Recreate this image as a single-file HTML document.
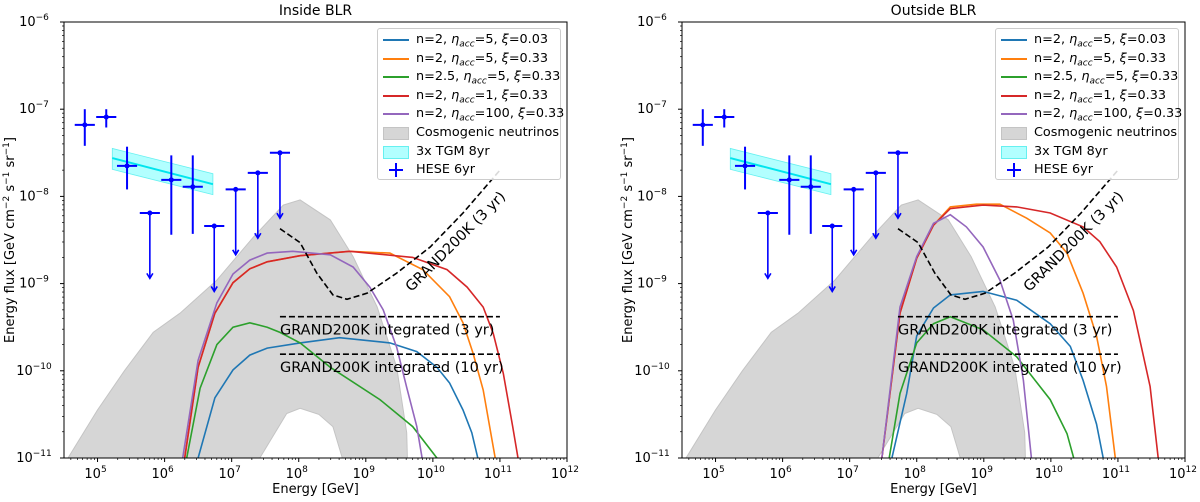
<!DOCTYPE html>
<html><head><meta charset="utf-8"><style>
body{margin:0;background:#fff;width:1200px;height:502px;overflow:hidden;font-family:"DejaVu Sans","Liberation Sans",sans-serif;}
#wrap{position:relative;width:1200px;height:502px;}
svg{position:absolute;left:0;top:0;}
.legend{position:absolute;border:1px solid #ccc;border-radius:3px;background:rgba(255,255,255,0.85);font-size:12.8px;color:#000;}
.le{position:absolute;left:0;height:18px;white-space:nowrap;}
.sw{position:absolute;left:5px;width:26px;}
.lt{position:absolute;left:38px;top:0;line-height:18px;}
sub{font-size:9px;font-style:italic;}
</style></head><body>
<div id="wrap">
<svg id="chart" width="1200" height="502"></svg>
</div>
<script>
const xTicks = [5,6,7,8,9,10,11,12];
const yTicks = [-11,-10,-9,-8,-7,-6];
const panelTitles = ['Inside BLR','Outside BLR'];
const legendLabels = ['n=2, η_acc=5, ξ=0.03','n=2, η_acc=5, ξ=0.33','n=2.5, η_acc=5, ξ=0.33','n=2, η_acc=1, ξ=0.33','n=2, η_acc=100, ξ=0.33'];

const hesePtE = [4.81,5.13,5.44,6.10,6.42];
const hesePtF = [-7.18,-7.09,-7.65,-7.81,-7.89];
const hesePtLo = [-7.42,-7.21,-7.92,-8.44,-8.43];
const hesePtHi = [-7.0,-7.0,-7.43,-7.53,-7.53];
const heseUlE = [5.78,6.74,7.06,7.39,7.72];
const heseUlF = [-8.19,-8.34,-7.92,-7.73,-7.50];

const tgmE = [5.22,6.72];
const tgmMid = [-7.56,-7.86];
const tgmUp = [-7.45,-7.74];
const tgmLo = [-7.69,-7.98];

const cosmoOuterE = [4.56,5.0,5.4,5.83,6.23,6.78,7.32,7.77,8.02,8.47,8.81,9.17,9.46,9.61,9.62];
const cosmoOuterF = [-11,-10.45,-10.0,-9.56,-9.34,-8.96,-8.47,-8.10,-8.04,-8.27,-8.69,-9.27,-9.96,-10.71,-11];
const cosmoHoleE = [8.65,8.51,8.30,8.02,7.82,7.42];
const cosmoHoleF = [-11,-10.64,-10.50,-10.43,-10.49,-11];

const grandE = [7.72,8.02,8.27,8.51,8.72,9.02,9.46,9.96,10.45,11.0];
const grandF = [-8.37,-8.53,-8.88,-9.13,-9.18,-9.11,-8.88,-8.58,-8.19,-7.70];
const grandIntE = [7.72,11.0];
const grandInt3F = -9.38;
const grandInt10F = -9.81;

const inBlueE = [6.50,6.75,7.02,7.27,7.53,8.02,8.61,9.36,9.76,10.06,10.25,10.45,10.58,10.67];
const inBlueF = [-11,-10.31,-9.99,-9.82,-9.74,-9.68,-9.62,-9.68,-9.78,-9.96,-10.14,-10.45,-10.71,-11];
const inOrangeE = [6.30,6.50,6.75,7.02,7.27,7.53,8.02,8.76,9.36,9.85,10.25,10.45,10.60,10.75,10.93];
const inOrangeF = [-11,-9.96,-9.34,-8.99,-8.83,-8.75,-8.68,-8.63,-8.65,-8.84,-9.15,-9.45,-9.80,-10.22,-11];
const inGreenE = [6.33,6.53,6.78,7.02,7.27,7.53,7.72,8.02,8.47,9.21,9.70,10.06];
const inGreenF = [-11,-10.20,-9.70,-9.50,-9.45,-9.50,-9.56,-9.68,-9.96,-10.33,-10.64,-11];
const inRedE = [6.30,6.50,6.75,7.02,7.27,7.53,8.02,8.76,9.70,10.21,10.51,10.75,10.90,11.05,11.19,11.27];
const inRedF = [-11,-9.96,-9.34,-8.99,-8.83,-8.75,-8.68,-8.63,-8.70,-8.84,-9.04,-9.27,-9.57,-10.03,-10.64,-11];
const inPurpleE = [6.27,6.50,6.78,7.02,7.27,7.53,7.91,8.47,8.81,9.06,9.26,9.46,9.61,9.76,9.84];
const inPurpleF = [-11,-9.88,-9.22,-8.89,-8.73,-8.65,-8.63,-8.67,-8.81,-9.04,-9.30,-9.73,-10.19,-10.64,-11];

const outBlueE = [7.63,7.85,8.00,8.25,8.50,8.99,9.49,9.99,10.29,10.48,10.68,10.78];
const outBlueF = [-11,-10.26,-9.60,-9.28,-9.13,-9.09,-9.19,-9.46,-9.72,-10.11,-10.61,-11];
const outOrangeE = [7.48,7.75,8.00,8.25,8.50,8.89,9.24,9.64,9.99,10.24,10.48,10.68,10.83,10.96];
const outOrangeF = [-11,-9.34,-8.71,-8.33,-8.12,-8.09,-8.09,-8.25,-8.42,-8.65,-9.11,-9.60,-10.18,-11];
const outGreenE = [7.59,7.75,8.00,8.25,8.50,8.99,9.49,9.99,10.24,10.34];
const outGreenF = [-11,-10.26,-9.68,-9.46,-9.38,-9.53,-9.84,-10.33,-10.72,-11];
const outRedE = [7.48,7.75,8.00,8.25,8.50,8.99,9.49,9.99,10.48,10.73,10.98,11.23,11.48,11.60];
const outRedF = [-11,-9.34,-8.71,-8.33,-8.14,-8.10,-8.12,-8.19,-8.35,-8.52,-8.81,-9.31,-10.18,-11];
const outPurpleE = [7.48,7.75,8.00,8.25,8.50,8.74,8.99,9.24,9.44,9.59,9.71];
const outPurpleF = [-11,-9.27,-8.69,-8.31,-8.21,-8.35,-8.58,-8.96,-9.42,-10.11,-11];

const colors = ['#1f77b4','#ff7f0e','#2ca02c','#d62728','#9467bd'];
const panelSeries = [
  [[inBlueE,inBlueF],[inOrangeE,inOrangeF],[inGreenE,inGreenF],[inRedE,inRedF],[inPurpleE,inPurpleF]],
  [[outBlueE,outBlueF],[outOrangeE,outOrangeF],[outGreenE,outGreenF],[outRedE,outRedF],[outPurpleE,outPurpleF]]
];

const NS = 'http://www.w3.org/2000/svg';
const svg = document.getElementById('chart');
function mk(tag, attrs, parent){
  const el = document.createElementNS(NS, tag);
  for (const k in attrs) el.setAttribute(k, attrs[k]);
  (parent||svg).appendChild(el);
  return el;
}
const PW = 503, Y0 = 22, Y1 = 458, XMIN = 4.5, XMAX = 12, YMIN = -11, YMAX = -6;

function drawPanel(p){
  const x0 = p === 0 ? 64 : 682;
  const sx = v => x0 + (v - XMIN) / (XMAX - XMIN) * PW;
  const sy = v => Y1 - (v - YMIN) / (YMAX - YMIN) * (Y1 - Y0);
  const g = mk('g', {});
  
  
  const clipId = 'clip' + p;
  const cp = mk('clipPath', {id: clipId}, g);
  mk('rect', {x: x0, y: Y0, width: PW, height: Y1 - Y0}, cp);
  const plot = mk('g', {'clip-path': 'url(#' + clipId + ')'}, g);

  let d = '';
  cosmoOuterE.forEach((e, i) => { d += (i ? 'L' : 'M') + sx(e).toFixed(1) + ',' + sy(cosmoOuterF[i]).toFixed(1); });
  cosmoHoleE.forEach((e, i) => { d += 'L' + sx(e).toFixed(1) + ',' + sy(cosmoHoleF[i]).toFixed(1); });
  d += 'Z';
  const cosmo = mk('path', {d: d, fill: '#d6d6d6', stroke: '#c4c4c4', 'stroke-width': 1}, plot);
  
  

  const band = mk('path', {d: 'M' + sx(tgmE[0]) + ',' + sy(tgmUp[0]) + 'L' + sx(tgmE[1]) + ',' + sy(tgmUp[1]) + 'L' + sx(tgmE[1]) + ',' + sy(tgmLo[1]) + 'L' + sx(tgmE[0]) + ',' + sy(tgmLo[0]) + 'Z', fill: '#b2ffff', stroke: '#66f0f0', 'stroke-width': 0.8}, plot);
  
  
  const tl = mk('line', {x1: sx(tgmE[0]), y1: sy(tgmMid[0]), x2: sx(tgmE[1]), y2: sy(tgmMid[1]), stroke: '#00e5ee', 'stroke-width': 2}, plot);
  
  

  panelSeries[p].forEach((s, i) => {
    const pts = s[0].map((e, j) => sx(e).toFixed(1) + ',' + sy(s[1][j]).toFixed(1)).join(' ');
    const pl = mk('polyline', {points: pts, fill: 'none', stroke: colors[i], 'stroke-width': 1.6}, plot);
    
    
  });

  const gp = grandE.map((e, j) => sx(e).toFixed(1) + ',' + sy(grandF[j]).toFixed(1)).join(' ');
  const gl = mk('polyline', {points: gp, fill: 'none', stroke: '#000', 'stroke-width': 1.6, 'stroke-dasharray': '6,3'}, plot);
  
  
  [grandInt3F, grandInt10F].forEach((f, k) => {
    const ln = mk('line', {x1: sx(grandIntE[0]), x2: sx(grandIntE[1]), y1: sy(f), y2: sy(f), stroke: '#000', 'stroke-width': 1.6, 'stroke-dasharray': '6,3'}, plot);
    
    
    const t = mk('text', {x: sx(grandIntE[0]), y: sy(f) + 18, 'font-size': 14.5, fill: '#000'}, g);
    t.textContent = k ? 'GRAND200K integrated (10 yr)' : 'GRAND200K integrated (3 yr)';
    
    
  });
  const rl = mk('text', {x: 0, y: 0, 'font-size': 14.5, 'text-anchor': 'middle', 'dominant-baseline': 'middle', transform: 'translate(' + (x0 + 392) + ',242) rotate(-45)'}, g);
  rl.textContent = 'GRAND200K (3 yr)';
  
  

  const blue = '#0000ff';
  hesePtE.forEach((e, i) => {
    const hg = mk('g', {stroke: blue, 'stroke-width': 2}, plot);
    
    
    mk('line', {x1: sx(e - 0.15), x2: sx(e + 0.15), y1: sy(hesePtF[i]), y2: sy(hesePtF[i])}, hg);
    mk('line', {x1: sx(e), x2: sx(e), y1: sy(hesePtLo[i]), y2: sy(hesePtHi[i])}, hg);
    mk('circle', {cx: sx(e), cy: sy(hesePtF[i]), r: 2.5, fill: blue, stroke: 'none'}, hg);
  });
  heseUlE.forEach((e, i) => {
    const hg = mk('g', {stroke: blue, 'stroke-width': 1.6, fill: 'none'}, plot);
    
    
    const y = sy(heseUlF[i]), ye = sy(heseUlF[i] - 0.75), x = sx(e);
    mk('line', {x1: sx(e - 0.15), x2: sx(e + 0.15), y1: y, y2: y, 'stroke-width': 2}, hg);
    mk('line', {x1: x, x2: x, y1: y, y2: ye}, hg);
    mk('polyline', {points: (x - 3) + ',' + (ye - 5) + ' ' + x + ',' + ye + ' ' + (x + 3) + ',' + (ye - 5)}, hg);
    mk('circle', {cx: x, cy: y, r: 2.5, fill: blue, stroke: 'none'}, hg);
  });

  const fr = mk('rect', {x: x0, y: Y0, width: PW, height: Y1 - Y0, fill: 'none', stroke: '#000', 'stroke-width': 1}, g);
  
  

  for (let dec = 4; dec < 12; dec++) {
    for (let m = 1; m <= 9; m++) {
      const v = dec + Math.log10(m);
      if (v < XMIN || v > XMAX) continue;
      const len = m === 1 ? 4 : 2;
      mk('line', {x1: sx(v), x2: sx(v), y1: Y1, y2: Y1 + len, stroke: '#000', 'stroke-width': m === 1 ? 1 : 0.7}, g);
    }
  }
  mk('line', {x1: sx(12), x2: sx(12), y1: Y1, y2: Y1 + 4, stroke: '#000'}, g);
  xTicks.forEach(v => {
    const t = mk('text', {x: sx(v) - 2, y: Y1 + 20, 'font-size': 13, 'text-anchor': 'middle'}, g);
    
    
    t.appendChild(document.createTextNode('10'));
    const s = mk('tspan', {dy: -6, 'font-size': 9}, t);
    s.textContent = String(v);
  });
  for (let dec = -11; dec < -6; dec++) {
    for (let m = 1; m <= 9; m++) {
      const v = dec + Math.log10(m);
      const len = m === 1 ? 4 : 2;
      mk('line', {x1: x0 - len, x2: x0, y1: sy(v), y2: sy(v), stroke: '#000', 'stroke-width': m === 1 ? 1 : 0.7}, g);
    }
  }
  mk('line', {x1: x0 - 4, x2: x0, y1: sy(-6), y2: sy(-6), stroke: '#000'}, g);
  yTicks.forEach(v => {
    const t = mk('text', {x: x0 - 30, y: sy(v) + 4, 'font-size': 13, 'text-anchor': 'middle'}, g);
    
    
    t.appendChild(document.createTextNode('10'));
    const s = mk('tspan', {dy: -6, 'font-size': 9}, t);
    s.textContent = '−' + Math.abs(v);
  });
  const ti = mk('text', {x: x0 + PW / 2, y: 15, 'font-size': 14, 'text-anchor': 'middle'}, g);
  ti.textContent = panelTitles[p];
  
  
  const xl = mk('text', {x: x0 + PW / 2, y: 493, 'font-size': 13, 'text-anchor': 'middle'}, g);
  xl.textContent = 'Energy [GeV]';
  
  
  const yl = mk('text', {x: 0, y: 0, 'font-size': 13, 'text-anchor': 'middle', transform: 'translate(' + (x0 - 50) + ',' + ((Y0 + Y1) / 2) + ') rotate(-90)'}, g);
  
  
  yl.appendChild(document.createTextNode('Energy flux [GeV cm'));
  const a = mk('tspan', {dy: -5, 'font-size': 9}, yl); a.textContent = '−2';
  const b = mk('tspan', {dy: 5}, yl); b.textContent = ' s';
  const c = mk('tspan', {dy: -5, 'font-size': 9}, yl); c.textContent = '−1';
  const d2 = mk('tspan', {dy: 5}, yl); d2.textContent = ' sr';
  const e2 = mk('tspan', {dy: -5, 'font-size': 9}, yl); e2.textContent = '−1';
  const f2 = mk('tspan', {dy: 5}, yl); f2.textContent = ']';

  const wrap = document.getElementById('wrap');
  const lg = document.createElement('div');
  lg.className = 'legend';
  
  
  lg.style.left = (x0 + 313) + 'px'; lg.style.top = '28px'; lg.style.width = '182px'; lg.style.height = '150px';
  const entries = legendLabels.map((l, i) => ({label: l, type: 'line', color: colors[i]}))
    .concat([{label: 'Cosmogenic neutrinos', type: 'patch', color: '#d6d6d6'}, {label: '3x TGM 8yr', type: 'patch', color: '#b2ffff'}, {label: 'HESE 6yr', type: 'err', color: '#0000ff'}]);
  entries.forEach((en, i) => {
    const row = document.createElement('div');
    row.className = 'le';
    
    
    row.style.top = (2 + i * 18.6) + 'px';
    const sw = document.createElement('div');
    sw.className = 'sw';
    if (en.type === 'line') { sw.style.top = '8px'; sw.style.height = '0'; sw.style.borderTop = '2px solid ' + en.color; }
    else if (en.type === 'patch') { sw.style.top = '3px'; sw.style.height = '11px'; sw.style.width = '24px'; sw.style.background = en.color; sw.style.border = '1px solid ' + (i === 5 ? '#c4c4c4' : '#66f0f0'); }
    else { sw.innerHTML = '<div style="position:absolute;left:6px;top:8px;width:14px;height:2px;background:#00f"></div><div style="position:absolute;left:12px;top:2px;width:2px;height:14px;background:#00f"></div>'; }
    row.appendChild(sw);
    const lt = document.createElement('div');
    lt.className = 'lt';
    const parts = en.label.split('η_acc');
    if (parts.length > 1) lt.innerHTML = parts[0] + '<i>η</i><sub>acc</sub>' + parts[1].replace('ξ', '<i>ξ</i>');
    else lt.textContent = en.label;
    row.appendChild(lt);
    lg.appendChild(row);
  });
  wrap.appendChild(lg);
}
drawPanel(0);
drawPanel(1);
</script>
</body></html>
